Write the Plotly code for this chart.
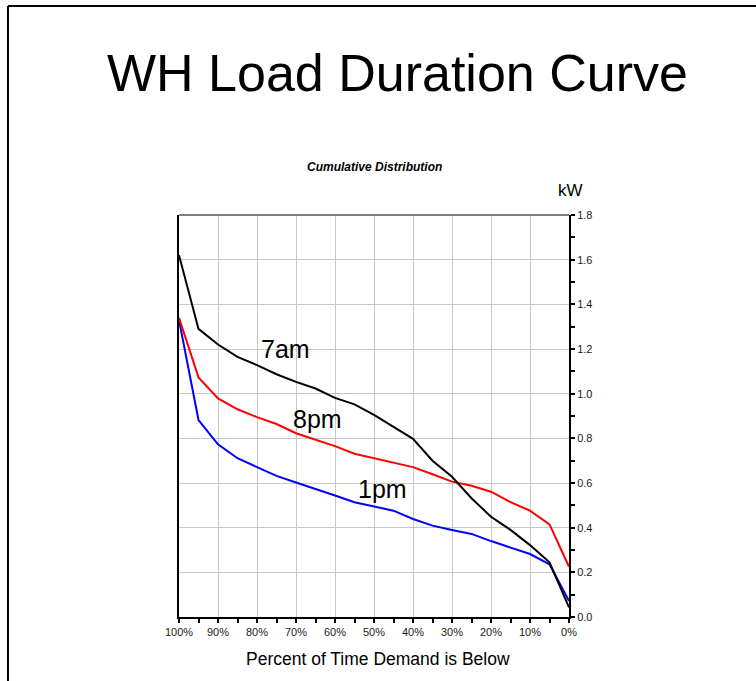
import plotly.graph_objects as go

# -------------------------------------------------
# Data
# -------------------------------------------------
pct_below = [100, 95, 90, 85, 80, 75, 70, 65, 60, 55, 50, 45, 40, 35, 30, 25, 20, 15, 10, 5, 0]

kw_7am = [1.62, 1.29, 1.22, 1.165, 1.128, 1.087, 1.053, 1.023, 0.981, 0.952, 0.905,
          0.852, 0.798, 0.70, 0.628, 0.532, 0.449, 0.39, 0.322, 0.245, 0.043]
kw_8pm = [1.34, 1.073, 0.979, 0.930, 0.895, 0.864, 0.823, 0.794, 0.765, 0.731, 0.711,
          0.691, 0.671, 0.639, 0.606, 0.588, 0.561, 0.514, 0.476, 0.415, 0.225]
kw_1pm = [1.33, 0.882, 0.773, 0.711, 0.671, 0.632, 0.602, 0.574, 0.544, 0.514, 0.494,
          0.476, 0.439, 0.409, 0.39, 0.372, 0.340, 0.312, 0.282, 0.236, 0.072]

series = [("1pm", kw_1pm, "#0000ff"), ("8pm", kw_8pm, "#ff0000"), ("7am", kw_7am, "#000000")]

# label positions (data coords)
labels = [("7am", 72.7, 1.20), ("8pm", 64.4, 0.885), ("1pm", 47.8, 0.573)]

FONT = "Arial, Liberation Sans, sans-serif"

fig = go.Figure()

for name, vals, color in series:
    fig.add_trace(
        go.Scatter(
            x=pct_below,
            y=vals,
            mode="lines",
            name=name,
            line=dict(color=color, width=2),
            showlegend=False,
            hoverinfo="skip",
        )
    )

for text, lx, ly in labels:
    fig.add_annotation(
        x=lx, y=ly, xref="x", yref="y", text=text, showarrow=False,
        xanchor="center", yanchor="middle",
        font=dict(family=FONT, size=25, color="#000000"),
    )

# -------------------------------------------------
# Axes
# -------------------------------------------------
fig.update_xaxes(
    range=[100, 0],
    tickmode="linear",
    tick0=0,
    dtick=10,
    ticksuffix="%",
    ticks="outside",
    ticklen=4,
    tickcolor="#000000",
    tickwidth=1.5,
    minor=dict(dtick=5, ticks="outside", ticklen=4, tickcolor="#000000", showgrid=False),
    showgrid=True,
    gridcolor="#c8c8c8",
    gridwidth=1,
    showline=True,
    linecolor="#000000",
    linewidth=2,
    zeroline=False,
    tickfont=dict(family=FONT, size=11, color="#1a1a1a"),
)

fig.update_yaxes(
    range=[0, 1.8],
    side="right",
    tickmode="linear",
    tick0=0,
    dtick=0.2,
    tickformat=".1f",
    ticks="outside",
    ticklen=4,
    tickcolor="#000000",
    tickwidth=1.5,
    minor=dict(dtick=0.1, ticks="outside", ticklen=4, tickcolor="#000000", showgrid=False),
    showgrid=True,
    gridcolor="#c8c8c8",
    gridwidth=1,
    showline=True,
    mirror=True,
    linecolor="#000000",
    linewidth=2,
    zeroline=False,
    tickfont=dict(family=FONT, size=11, color="#1a1a1a"),
)

# -------------------------------------------------
# Overlay axes: inner half of the crossing tick marks
# -------------------------------------------------
fig.update_layout(
    xaxis2=dict(
        overlaying="x", anchor="y", side="bottom", range=[100, 0],
        tickmode="linear", tick0=0, dtick=5, ticks="inside", ticklen=3,
        tickwidth=1.5, tickcolor="#000000", showticklabels=False,
        showgrid=False, showline=False, zeroline=False,
    ),
    yaxis2=dict(
        overlaying="y", anchor="x", side="right", range=[0, 1.8],
        tickmode="linear", tick0=0, dtick=0.1, ticks="inside", ticklen=3,
        tickwidth=1.5, tickcolor="#000000", showticklabels=False,
        showgrid=False, showline=False, zeroline=False,
    ),
)

# -------------------------------------------------
# Texts around the plot
# -------------------------------------------------
fig.add_annotation(
    x=0.5615, y=1.353, xref="paper", yref="paper", text="WH Load Duration Curve",
    xanchor="center", yanchor="middle",
    showarrow=False, font=dict(family=FONT, size=52, color="#000000"),
)
fig.add_annotation(
    x=0.501, y=1.12, xref="paper", yref="paper",
    text="<b><i>Cumulative Distribution</i></b>",
    xanchor="center", yanchor="middle",
    showarrow=False, font=dict(family=FONT, size=12, color="#000000"),
)
fig.add_annotation(
    x=1.0026, y=1.062, xref="paper", yref="paper", text="kW",
    xanchor="center", yanchor="middle",
    showarrow=False, font=dict(family=FONT, size=17, color="#000000"),
)
fig.add_annotation(
    x=0.51, y=-0.105, xref="paper", yref="paper", text="Percent of Time Demand is Below",
    xanchor="center", yanchor="middle",
    showarrow=False, font=dict(family=FONT, size=17.5, color="#000000"),
)

# top edge of the plot box (dark gray) and slide border (left + top)
fig.add_shape(type="line", xref="paper", yref="paper", x0=0, x1=1, y0=1, y1=1,
              line=dict(color="#555555", width=1.5))
fig.add_shape(type="line", xref="paper", yref="paper", x0=-0.4385, x1=1.6, y0=1.52, y1=1.52,
              line=dict(color="#000000", width=2))
fig.add_shape(type="line", xref="paper", yref="paper", x0=-0.4385, x1=-0.4385, y0=1.52, y1=-0.3,
              line=dict(color="#000000", width=2))

fig.update_layout(
    width=756,
    height=681,
    margin=dict(l=179, r=187, t=215, b=64),
    paper_bgcolor="#ffffff",
    plot_bgcolor="#ffffff",
    font=dict(family=FONT),
    hovermode=False,
)

fig.write_html(
    "out.html",
    config={"displayModeBar": False},
    post_script="document.body.style.margin='0px';",
)
